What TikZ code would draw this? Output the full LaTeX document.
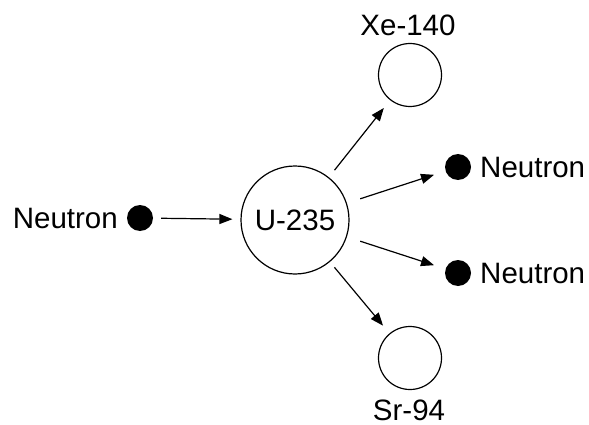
\documentclass[tikz,border=0pt]{standalone}
\usepackage{fontspec}
\setmainfont{Liberation Sans}
\usetikzlibrary{arrows.meta}
\begin{document}
\begin{tikzpicture}[x=1pt,y=-1pt,
  nucleus/.style={draw, line width=1.2pt, circle, inner sep=0pt},
  dot/.style={fill=black, circle, inner sep=0pt, minimum size=26pt},
  lbl/.style={font=\fontsize{29.5}{31}\selectfont, inner sep=0pt},
  arr/.style={-{Triangle[length=13pt,width=10pt]}, line width=1.2pt}]
\useasboundingbox (0,0) rectangle (589,425);
\node[nucleus, minimum size=108pt, lbl] (u) at (295,220) {U-235};
\node[nucleus, minimum size=63pt] (xe) at (410,75) {};
\node[nucleus, minimum size=63pt] (sr) at (410,358) {};
\node[dot] (n0) at (140,218) {};
\node[dot] (n1) at (458,167) {};
\node[dot] (n2) at (458,273) {};
\node[lbl, anchor=east] (t0) at (118,218) {Neutron};
\node[lbl, anchor=west] (t1) at (480,167) {Neutron};
\node[lbl, anchor=west] (t2) at (480,273) {Neutron};
\node[lbl] (txe) at (408,25) {Xe-140};
\node[lbl] (tsr) at (409,410) {Sr-94};
\draw[arr, shorten <=8pt, shorten >=8pt] (n0) -- (u);
\draw[arr, shorten <=9pt, shorten >=10pt] (u) -- (xe);
\draw[arr, shorten <=14pt, shorten >=12pt] (u) -- (n1);
\draw[arr, shorten <=14pt, shorten >=12pt] (u) -- (n2);
\draw[arr, shorten <=7pt, shorten >=10pt] (u) -- (sr);
\end{tikzpicture}
\end{document}
